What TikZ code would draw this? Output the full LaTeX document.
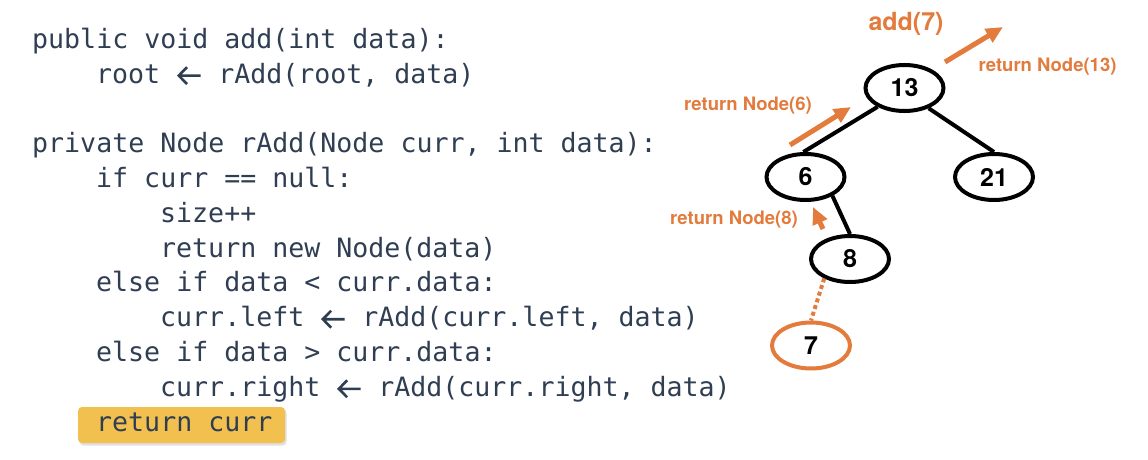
\documentclass[tikz,border=0pt]{standalone}
\usepackage{fontspec}
\setmainfont{TeX Gyre Heros}
\newfontfamily\codefont{DejaVu Sans Mono}
\usetikzlibrary{shapes.geometric}
\usetikzlibrary{arrows.meta}
\usetikzlibrary{positioning}
\definecolor{codeblue}{HTML}{2F3E52}
\definecolor{callorange}{HTML}{E27B3C}
\definecolor{hilite}{HTML}{F2C04E}
\newcommand{\codearrow}{\makebox[26pt][l]{\hspace{1pt}\tikz[x=1pt, y=1pt, baseline=0pt]{\draw[codeblue, line width=2.6pt] (1, 7.5) -- (23, 7.5) (9.5, 16) -- (1.2, 7.5) -- (9.5, -1);}}}

\begin{document}
\begin{tikzpicture}[x=1pt, y=-1pt,
    code/.style={anchor=base west, inner sep=0pt, text=codeblue, font=\codefont\fontsize{26.6}{30}\selectfont},
    bst/.style={ellipse, draw, line width=4pt, minimum width=78pt, minimum height=46pt, inner sep=0pt, font=\bfseries\fontsize{25}{25}\selectfont},
    ret/.style={text=callorange, inner sep=0pt, font=\bfseries\fontsize{18.5}{18.5}\selectfont},
    retarrow/.style={draw=callorange, line width=5pt, -{Triangle[length=17pt, width=15pt]}}]
        \useasboundingbox (0,0) rectangle (1148,460);

        \node[code] (l1) at (32, 48.3) {public void add(int data):};
        \node[code] (l2) at (96, 83.1) {root \codearrow{} rAdd(root, data)};
        \node[code] (l3) at (32, 152.7) {private Node rAdd(Node curr, int data):};
        \node[code] (l4) at (96, 187.5) {if curr == null:};
        \node[code] (l5) at (160, 222.3) {size++};
        \node[code] (l6) at (160, 257.1) {return new Node(data)};
        \node[code] (l7) at (96, 291.9) {else if data < curr.data:};
        \node[code] (l8) at (160, 326.7) {curr.left \codearrow{} rAdd(curr.left, data)};
        \node[code] (l9) at (96, 361.5) {else if data > curr.data:};
        \node[code] (l10) at (160, 396.3) {curr.right \codearrow{} rAdd(curr.right, data)};

        \fill[black!12, rounded corners=4pt] (79.5, 409) rectangle (286.5, 445.5);
        \fill[hilite, rounded corners=4pt] (78, 407) rectangle (285, 443);
        \node[code] (l11) at (96, 431.1) {return curr};

        \node[bst] (n13) at (904.5, 88) {13};
        \node[bst] (n6) at (805.5, 177) {6};
        \node[bst] (n21) at (994, 177) {21};
        \node[bst] (n8) at (850, 259) {8};
        \node[bst, draw=callorange] (n7) at (811, 345.5) {7};

        \draw[line width=4pt] (n13.215) -- (n6.95);
        \draw[line width=4pt] (n13.320) -- (n21.north);
        \draw[line width=4pt] (n6.325) -- (n8.north);
        \draw[callorange, line width=4pt, dash pattern=on 4pt off 3pt] (n8.217) -- (n7.north);

        \node[text=callorange, inner sep=0pt, font=\bfseries\fontsize{25}{25}\selectfont] (call) at (906, 24) {add(7)};

        \coordinate (t13) at (945, 62);
        \coordinate (h13) at (1003, 27);
        \coordinate (t6) at (790, 145);
        \coordinate (h6) at (851, 107);
        \coordinate (t8) at (823, 229);
        \coordinate (h8) at (813, 207);
        \draw[retarrow] (t13) -- (h13);
        \draw[retarrow] (t6) -- (h6);
        \draw[retarrow] (t8) -- (h8);

        \node[ret] (r13) at (1047.5, 67) {return Node(13)};
        \node[ret] (r6) at (748, 106) {return Node(6)};
        \node[ret] (r8) at (734, 220) {return Node(8)};
      \end{tikzpicture}
\end{document}
